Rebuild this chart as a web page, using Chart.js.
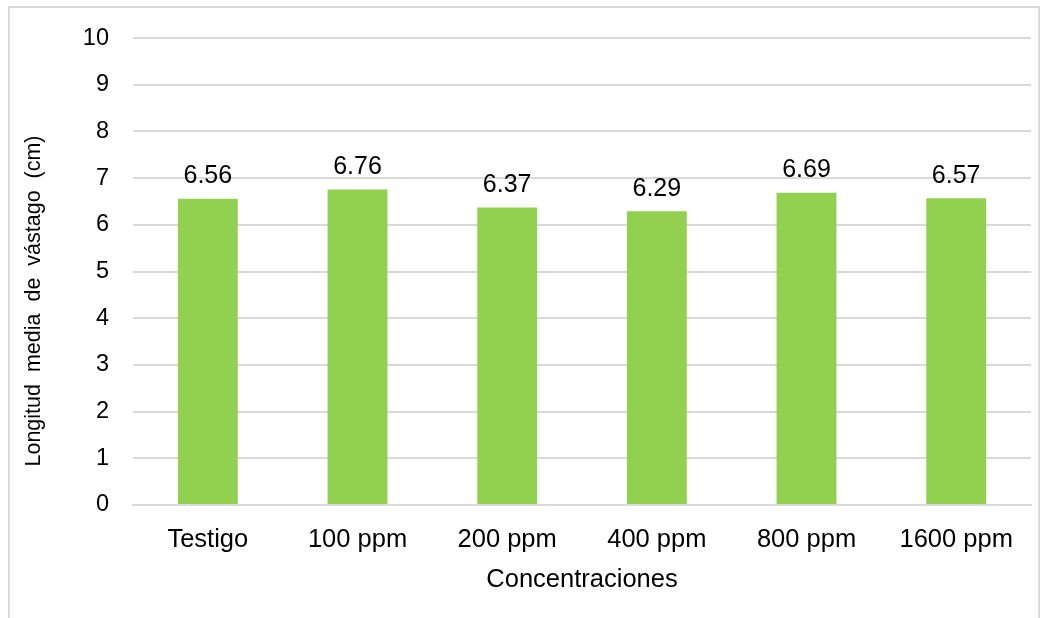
<!DOCTYPE html>
<html lang="es">
<head>
    <meta charset="UTF-8">
    <title>Longitud media de vástago</title>
    <script src="https://cdn.jsdelivr.net/npm/chart.js"></script>
    <style>
        html, body { margin: 0; padding: 0; background: #fff; }
        #frame {
            position: absolute; left: 8px; top: 6px;
            width: 1032px; height: 630px;
            border: 2px solid #d9d9d9; box-sizing: border-box;
        }
        #wrap { position: absolute; left: 0; top: 0; width: 1050px; height: 618px; }
    </style>
</head>
<body>
    <div id="frame"></div>
    <div id="wrap"><canvas id="lengthChart"></canvas></div>
    <script>
        const categories = ['Testigo', '100 ppm', '200 ppm', '400 ppm', '800 ppm', '1600 ppm'];
        const meanLength = [6.56, 6.76, 6.37, 6.29, 6.69, 6.57];
        const yTicks = [0, 1, 2, 3, 4, 5, 6, 7, 8, 9, 10];
        const yTitle = 'Longitud  media  de  vástago  (cm)';

        const FONT = 'Liberation Sans, Arial, sans-serif';

        // value labels above each bar + y axis title (sits a bit lower than centre in the original)
        const extras = {
            id: 'extras',
            afterDatasetsDraw(chart) {
                const ctx = chart.ctx;
                const meta = chart.getDatasetMeta(0);
                ctx.save();
                ctx.font = '25px ' + FONT;
                ctx.fillStyle = '#000';
                ctx.textAlign = 'center';
                ctx.textBaseline = 'bottom';
                meta.data.forEach((bar, i) => {
                    ctx.fillText(meanLength[i].toFixed(2), bar.x, bar.y - 10);
                });
                ctx.translate(34, 301);
                ctx.rotate(-Math.PI / 2);
                ctx.font = '21.5px ' + FONT;
                ctx.textBaseline = 'middle';
                ctx.fillText(yTitle, 0, 0);
                ctx.restore();
            }
        };

        const ctx = document.getElementById('lengthChart').getContext('2d');
        new Chart(ctx, {
            type: 'bar',
            data: {
                labels: categories,
                datasets: [{
                    data: meanLength,
                    backgroundColor: '#92d050',
                    barPercentage: 0.4,
                    categoryPercentage: 1.0
                }]
            },
            options: {
                responsive: true,
                maintainAspectRatio: false,
                animation: false,
                layout: { padding: { left: 0, top: 35, right: 19, bottom: 0 } },
                plugins: { legend: { display: false }, tooltip: { enabled: false } },
                scales: {
                    x: {
                        grid: { display: false, drawTicks: false },
                        border: { color: '#d9d9d9', width: 2 },
                        ticks: { color: '#000', padding: 20, font: { family: FONT, size: 25.5 } },
                        title: {
                            display: true, text: 'Concentraciones', color: '#000',
                            font: { family: FONT, size: 25.5 }, padding: { top: 0, bottom: 23 }
                        },
                        afterFit: s => { s.height = 113; }
                    },
                    y: {
                        min: 0, max: 10,
                        afterBuildTicks: s => { s.ticks = yTicks.map(v => ({ value: v })); },
                        grid: { color: '#d9d9d9', lineWidth: 2, drawTicks: false },
                        border: { display: false },
                        ticks: { color: '#000', padding: 24, font: { family: FONT, size: 23.5 } },
                        afterFit: s => { s.width = 133; }
                    }
                }
            },
            plugins: [extras]
        });
    </script>
</body>
</html>
